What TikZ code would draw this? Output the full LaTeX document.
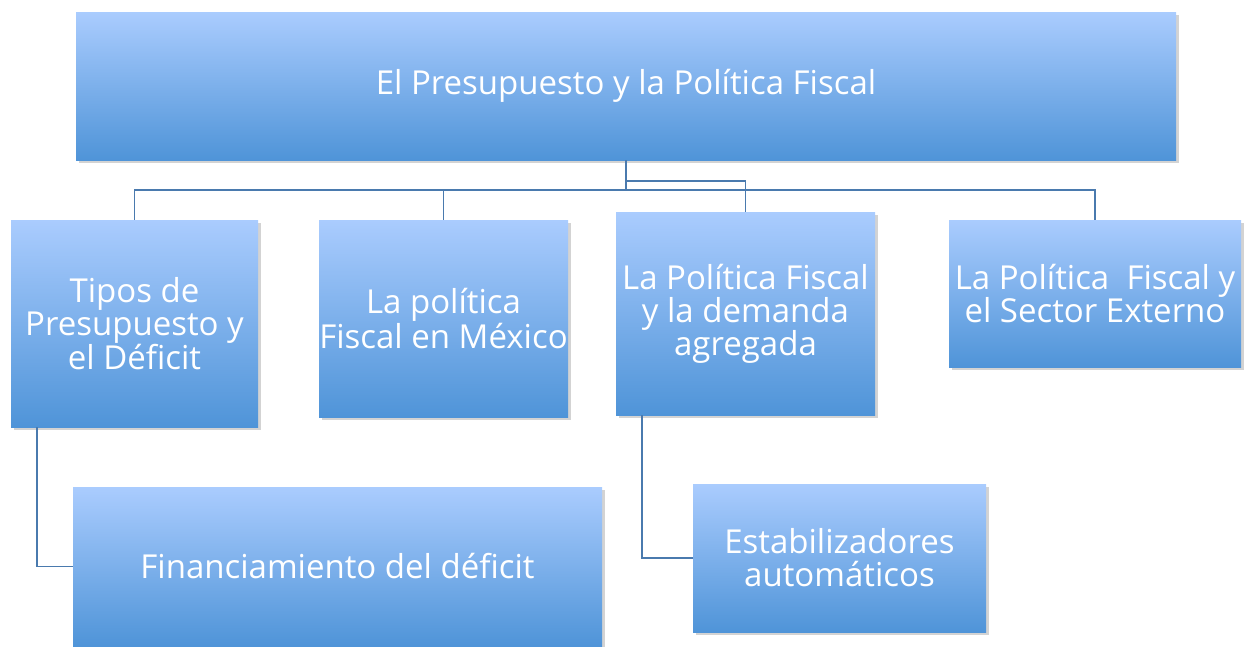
\documentclass[tikz,border=0pt]{standalone}
\usepackage{fontspec}
\setmainfont{Open Sans}
\usetikzlibrary{shadows}
\usetikzlibrary{calc}

\definecolor{boxtop}{HTML}{AACCFE}
\definecolor{boxbot}{HTML}{4F94D8}
\definecolor{linkcol}{HTML}{4A7AAE}

\tikzset{
  topicbox/.style={rectangle,top color=boxtop,bottom color=boxbot,draw=none,
    text=white,align=center,inner sep=0pt,
    font=\fontsize{33}{33}\selectfont,
    drop shadow={shadow xshift=3pt,shadow yshift=-3pt,opacity=0.35}},
  link/.style={draw=linkcol,line width=1.6pt}
}

\begin{document}
\begin{tikzpicture}[x=1pt,y=-1pt]
\useasboundingbox (0,0) rectangle (1244,646);
\node [topicbox,minimum width=1100pt,minimum height=148pt] (title) at (626,86) {El Presupuesto y la Política Fiscal};
\node [topicbox,minimum width=247pt,minimum height=207pt] (tipos) at (134.5,323.5) {Tipos de\\Presupuesto y\\el Déficit};
\node [topicbox,minimum width=249pt,minimum height=197pt] (mexico) at (443.5,318.5) {La política\\Fiscal en México};
\node [topicbox,minimum width=259pt,minimum height=203pt] (demanda) at (745.5,313.5) {La Política Fiscal\\y la demanda\\agregada};
\node [topicbox,minimum width=292pt,minimum height=147pt] (externo) at (1095,293.5) {La Política\ \ Fiscal y\\el Sector Externo};
\node [topicbox,minimum width=529pt,minimum height=159pt] (financ) at (337.5,566.5) {Financiamiento del déficit};
\node [topicbox,minimum width=293pt,minimum height=148pt] (estab) at (839.5,558) {Estabilizadores\\automáticos};
% connectors
\coordinate (bus) at (626,190);
\coordinate (split) at (626,181);
\coordinate (tiposfoot) at (37,427);
\coordinate (demandafoot) at (642,415);
\draw [link] (title.south) -- (bus);
\draw [link] (tipos.north) |- (bus) -| (externo.north);
\draw [link] (mexico.north) -- (mexico.north |- bus);
\draw [link] (split) -| (demanda.north);
\draw [link] (tiposfoot) |- (financ.west);
\draw [link] (demandafoot) |- (estab.west);
\end{tikzpicture}
\end{document}
